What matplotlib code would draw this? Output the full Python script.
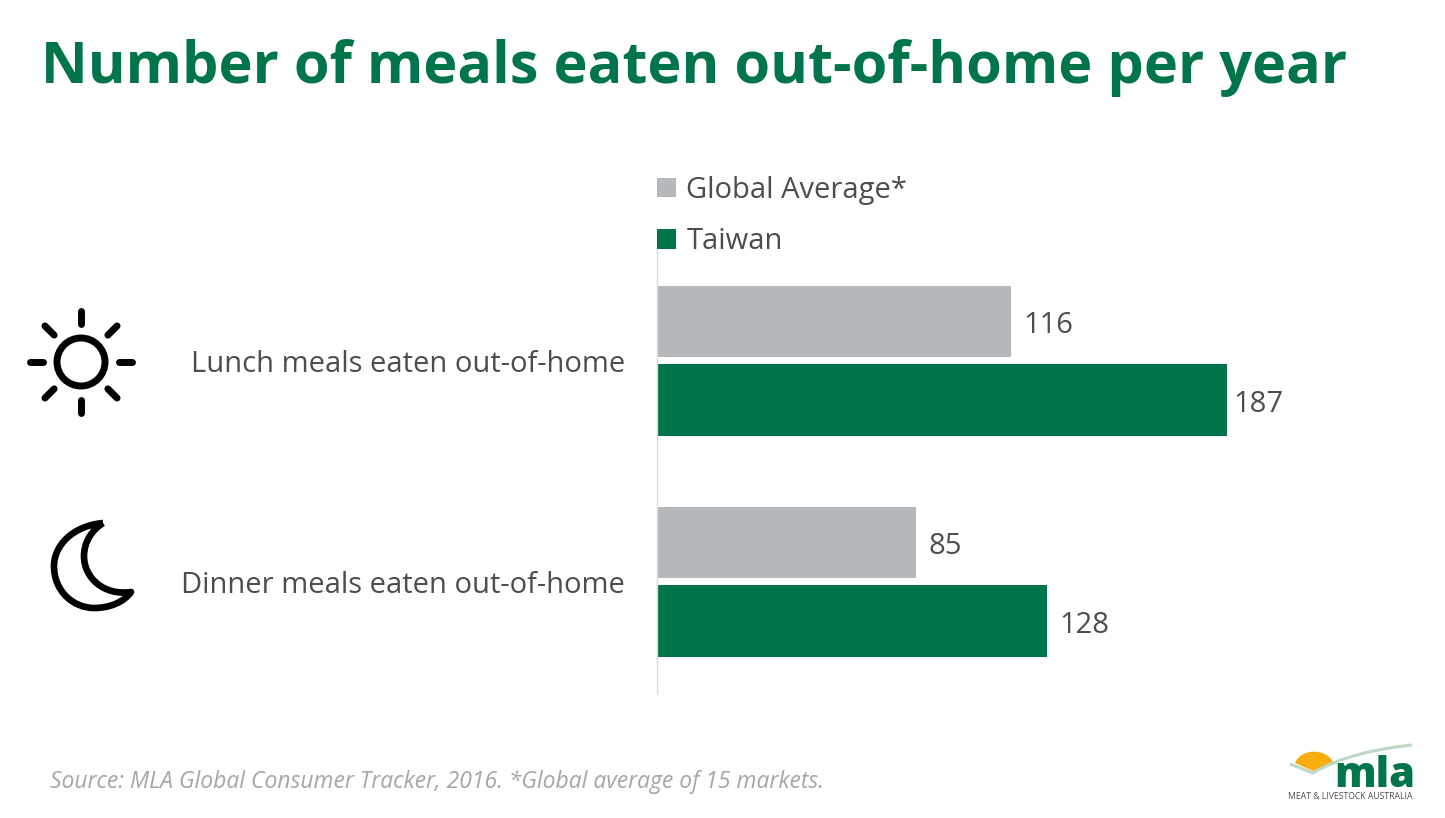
import numpy as np
import matplotlib.pyplot as plt
from matplotlib.path import Path
from matplotlib.patches import PathPatch, Circle

plt.rcParams['font.family'] = 'Open Sans'

def meals(output):

    labels = ["Lunch meals eaten out-of-home", "Dinner meals eaten out-of-home"]
    global_avg = [116, 85]
    taiwan = [187, 128]
    pads = {116: 13, 187: 6, 85: 12, 128: 12}  # gap in pixels, the 187 sits closer to its bar

    grey = "#B5B8BB"
    green = "#00754A"
    text = "#4D4D4F"

    plt.figure(figsize=(14.45, 8.18), dpi=100)
    plt.axes([657 / 1445, 1 - 692.5 / 818, 609.6 / 1445, 442 / 818])

    y = np.arange(len(labels))
    plt.barh(y - 0.18, global_avg, height=0.322, color=grey, label="Global Average*")
    plt.barh(y + 0.176, taiwan, height=0.325, color=green, label="Taiwan")

    for i in range(len(labels)):
        plt.annotate(str(global_avg[i]), (global_avg[i], y[i] - 0.16), xytext=(pads[global_avg[i]] * 0.72, 0),
                     textcoords="offset points", va="center", fontsize=21, color=text)
        plt.annotate(str(taiwan[i]), (taiwan[i], y[i] + 0.197), xytext=(pads[taiwan[i]] * 0.72, 0),
                     textcoords="offset points", va="center", fontsize=21, color=text)

    plt.xlim(0, 200)
    plt.ylim(1.5, -0.5)
    plt.xticks([])
    plt.yticks(y, labels, fontsize=21, color=text)
    plt.tick_params(axis="y", length=0, pad=23)

    ax = plt.gca()
    for side in ["top", "right", "bottom"]:
        ax.spines[side].set_visible(False)
    ax.spines["left"].set_color("#D9D9D9")
    ax.spines["left"].set_linewidth(1.0)
    ax.patch.set_alpha(0)

    plt.legend(loc="upper left", bbox_to_anchor=(657 / 1445, 1 - 176 / 818), bbox_transform=plt.gcf().transFigure,
               frameon=False, fontsize=21, handlelength=0.65, handleheight=0.65, handletextpad=0.36,
               labelspacing=0.77, borderpad=0, borderaxespad=0, labelcolor=text)

    # overlay in pixels for the title, icons and logo
    over = plt.axes([0, 0, 1, 1], zorder=5)
    over.set_xlim(0, 1445)
    over.set_ylim(818, 0)
    over.axis("off")

    over.text(41, 68, "Number of meals eaten out-of-home per year", fontsize=41.5, fontweight="bold",
              color=green, va="center", ha="left")
    over.text(50, 782, "Source: MLA Global Consumer Tracker, 2016. *Global average of 15 markets.",
              fontsize=16.5, fontstyle="italic", color="#A6A6A6", va="center", ha="left")

    # sun
    over.add_patch(Circle((81, 362), 24, fill=False, edgecolor="black", linewidth=5))
    for angle in np.arange(0, 360, 45):
        c, s = np.cos(np.radians(angle)), np.sin(np.radians(angle))
        over.plot([81 + 38 * c, 81 + 51 * c], [362 + 38 * s, 362 + 51 * s], color="black",
                  linewidth=5, solid_capstyle="round")

    # moon
    moon = Path([(103, 523), (72, 526), (54, 546), (54, 566), (54, 592), (74, 608), (94, 608),
                 (110, 608), (124, 602), (131, 592), (104, 596), (84, 578), (84, 556),
                 (84, 542), (92, 530), (103, 523)],
                [Path.MOVETO] + [Path.CURVE4] * 15)
    over.add_patch(PathPatch(moon, fill=False, edgecolor="black", linewidth=4.8, joinstyle="round"))

    # logo
    dome = Path([(1295, 763), (1301, 748), (1326, 748), (1333, 762), (1313, 771), (1295, 763)],
                [Path.MOVETO, Path.CURVE4, Path.CURVE4, Path.CURVE4, Path.LINETO, Path.LINETO])
    over.add_patch(PathPatch(dome, facecolor="#F9AE0F", edgecolor="none"))
    swoosh = Path([(1290, 764), (1313, 773), (1340, 757), (1375, 749), (1412, 745)],
                  [Path.MOVETO, Path.LINETO, Path.CURVE4, Path.CURVE4, Path.CURVE4])
    over.add_patch(PathPatch(swoosh, fill=False, edgecolor="#BCD8C4", linewidth=2.2))
    over.text(1375, 787, "mla", fontsize=30, fontweight="heavy", color=green, ha="center", va="baseline")
    over.text(1350.5, 799, "MEAT & LIVESTOCK AUSTRALIA", fontsize=6.2, color=text, ha="center", va="baseline")

    plt.savefig(output, dpi=100)
    plt.close()

meals("out.png")
